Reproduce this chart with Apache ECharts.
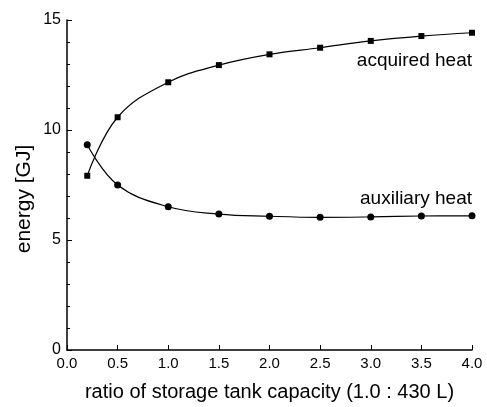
<!DOCTYPE html>
<html>
<head>
<meta charset="utf-8">
<script src="https://cdn.jsdelivr.net/npm/echarts@6/dist/echarts.min.js"></script>
<style>
  html, body { margin: 0; padding: 0; background: #fff; }
  #chart { width: 487px; height: 407px; }
</style>
</head>
<body>
<div id="chart"></div>
<script>
// ratio of storage tank capacity
const ratios = [0.2, 0.5, 1.0, 1.5, 2.0, 2.5, 3.0, 3.5, 4.0];
// energy [GJ]
const acquiredHeat = [7.92, 10.58, 12.17, 12.95, 13.44, 13.74, 14.05, 14.27, 14.42];
const auxiliaryHeat = [9.33, 7.5, 6.51, 6.18, 6.08, 6.03, 6.05, 6.09, 6.1];

const font = "Liberation Sans, Arial, sans-serif";

const toPairs = (xs, ys) => xs.map((x, i) => [x, ys[i]]);

const chart = echarts.init(document.getElementById("chart"));
chart.setOption({
  animation: false,
  grid: { left: 67, right: 15, top: 20, bottom: 57, containLabel: false },
  xAxis: {
    type: "value",
    min: 0,
    max: 4,
    interval: 0.5,
    name: "ratio of storage tank capacity (1.0 : 430 L)",
    nameLocation: "middle",
    nameGap: 32,
    nameTextStyle: { color: "#000", fontSize: 20, fontFamily: font },
    axisLine: { show: true, onZero: false, lineStyle: { color: "#000", width: 1.5 } },
    axisTick: { show: true, inside: true, length: 5, lineStyle: { color: "#000" } },
    axisLabel: {
      color: "#000",
      fontSize: 15,
      fontFamily: font,
      margin: 6,
      formatter: (v) => v.toFixed(1),
    },
    splitLine: { show: false },
  },
  yAxis: {
    type: "value",
    min: 0,
    max: 15,
    interval: 5,
    axisLine: { show: true, onZero: false, lineStyle: { color: "#000", width: 1.5 } },
    axisTick: { show: true, inside: true, length: 5, lineStyle: { color: "#000" } },
    minorTick: { show: true, splitNumber: 5, length: 3, lineStyle: { color: "#000" } },
    axisLabel: { color: "#000", fontSize: 16, fontFamily: font, margin: 6 },
    splitLine: { show: false },
  },
  series: [
    {
      name: "acquired heat",
      type: "line",
      smooth: 0.4,
      data: toPairs(ratios, acquiredHeat),
      symbol: "rect",
      symbolSize: 6,
      itemStyle: { color: "#000" },
      lineStyle: { color: "#000", width: 1.2 },
    },
    {
      name: "auxiliary heat",
      type: "line",
      smooth: 0.4,
      data: toPairs(ratios, auxiliaryHeat),
      symbol: "circle",
      symbolSize: 7,
      itemStyle: { color: "#000" },
      lineStyle: { color: "#000", width: 1.2 },
    },
  ],
  graphic: [
    {
      type: "text",
      x: 24,
      y: 199,
      rotation: Math.PI / 2,
      style: {
        text: "energy [GJ]",
        fill: "#000",
        font: "21px " + font,
        textAlign: "center",
        textVerticalAlign: "middle",
      },
    },
    {
      type: "text",
      right: 15,
      top: 51,
      style: { text: "acquired heat", fill: "#000", font: "19px " + font },
    },
    {
      type: "text",
      right: 15,
      top: 189,
      style: { text: "auxiliary heat", fill: "#000", font: "19px " + font },
    },
  ],
});
</script>
</body>
</html>
